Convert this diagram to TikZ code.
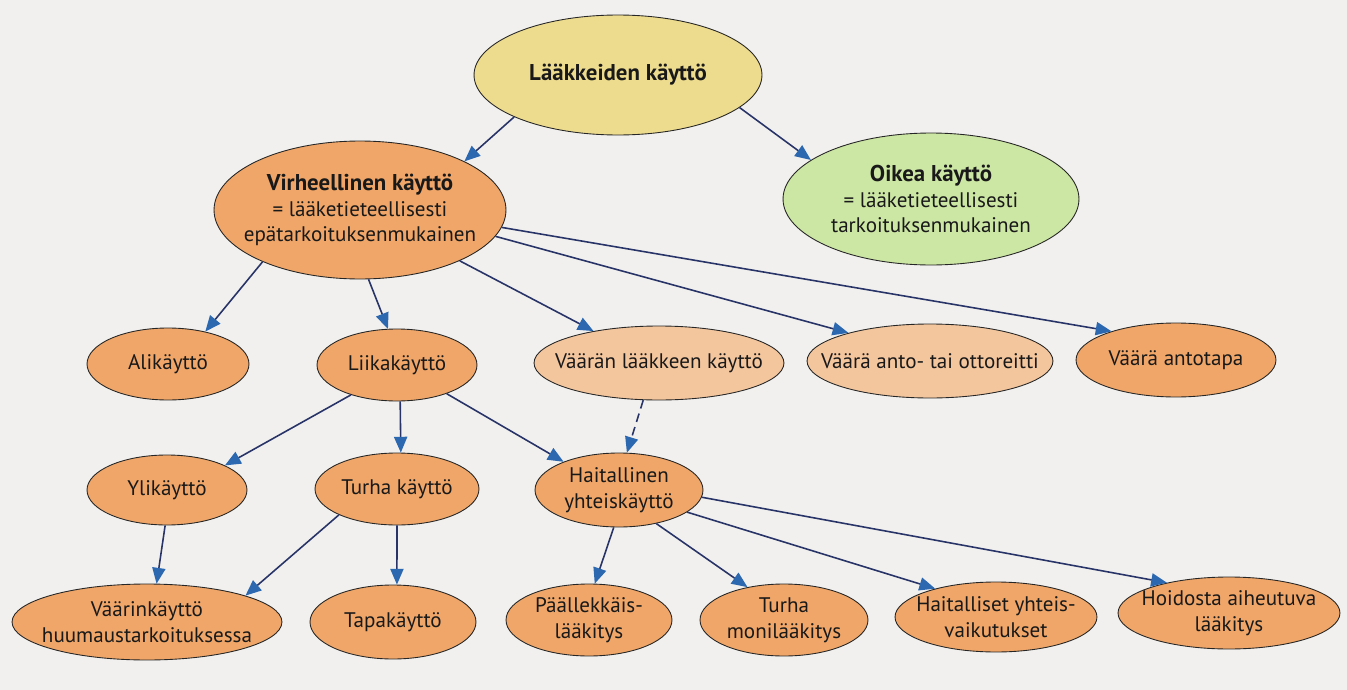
\documentclass[tikz,border=0pt]{standalone}
\usepackage{fontspec}
\setmainfont{PT Sans}
\usetikzlibrary{shapes.geometric, arrows.meta}

\definecolor{paper}{RGB}{241,240,238}
\definecolor{yel}{RGB}{238,220,142}
\definecolor{ora}{RGB}{239,166,104}
\definecolor{peach}{RGB}{244,198,158}
\definecolor{grn}{RGB}{204,230,164}
\definecolor{navy}{RGB}{40,52,104}
\definecolor{arrblue}{RGB}{44,104,176}

\newcommand{\ttl}[1]{{\fontsize{13}{15.6}\selectfont\bfseries #1}}

\tikzset{
  ov/.style 2 args={ellipse, draw=black!85, line width=0.5pt, minimum width=#1cm,
    minimum height=#2cm, inner sep=-1cm, align=center, text=black!90,
    font=\fontsize{12}{14.6}\selectfont},
  arr/.style={draw=navy, line width=0.9pt,
    -{Triangle[length=9pt, width=7.5pt, color=arrblue]}}
}

\begin{document}
\begin{tikzpicture}[x=0.02cm, y=-0.02cm]
    \fill[paper] (0,0) rectangle (1347,690);
    \useasboundingbox (0,0) rectangle (1347,690);

    % top
    \node[ov={5.76}{2.4}, fill=yel] (lk) at (618,75) {\ttl{Lääkkeiden käyttö}};
    \node[ov={5.84}{2.76}, fill=ora] (virh) at (360,210)
        {\ttl{Virheellinen käyttö}\\= lääketieteellisesti\\epätarkoituksenmukainen};
    \node[ov={5.92}{2.64}, fill=grn] (oikea) at (931,199)
        {\ttl{Oikea käyttö}\\= lääketieteellisesti\\tarkoituksenmukainen};

    % second row
    \node[ov={3.24}{1.44}, fill=ora] (ali) at (168,364) {Alikäyttö};
    \node[ov={3.2}{1.44}, fill=ora] (liika) at (397,365) {Liikakäyttö};
    \node[ov={5.0}{1.48}, fill=peach] (vlaak) at (659,363) {Väärän lääkkeen käyttö};
    \node[ov={4.92}{1.48}, fill=peach] (antor) at (930,361) {Väärä anto- tai ottoreitti};
    \node[ov={4.0}{1.48}, fill=ora] (antot) at (1176,360) {Väärä antotapa};

    % third row
    \node[ov={3.2}{1.4}, fill=ora] (yli) at (167,490) {Ylikäyttö};
    \node[ov={3.28}{1.44}, fill=ora] (turha) at (397,489) {Turha käyttö};
    \node[ov={3.36}{1.48}, fill=ora] (hait) at (619,490) {Haitallinen\\yhteiskäyttö};

    % bottom row
    \node[ov={5.4}{1.52}, fill=ora] (huume) at (147,622) {Väärinkäyttö\\huumaustarkoituksessa};
    \node[ov={3.32}{1.48}, fill=ora] (tapa) at (393,622) {Tapakäyttö};
    \node[ov={3.32}{1.44}, fill=ora] (paall) at (589,620) {Päällekkäis-\\lääkitys};
    \node[ov={3.36}{1.44}, fill=ora] (moni) at (784,620) {Turha\\monilääkitys};
    \node[ov={4.04}{1.4}, fill=ora] (yhteis) at (996,617) {Haitalliset yhteis-\\vaikutukset};
    \node[ov={4.44}{1.44}, fill=ora] (hoito) at (1229,613) {Hoidosta aiheutuva\\lääkitys};

    % arrows
    \draw[arr] (lk.202) -- (virh.25);
    \draw[arr] (lk.-15) -- (oikea.162);
    \draw[arr] (virh.208) -- (ali.41);
    \draw[arr] (virh.277) -- (liika.104);
    \draw[arr] (virh.-27) -- (vlaak.154);
    \draw[arr] (virh.-11) -- (antor.161);
    \draw[arr] (virh.-7) -- (antot.156);
    \draw[arr] (liika.213) -- (yli.23);
    \draw[arr] (liika.275) -- (turha.84);
    \draw[arr] (liika.-30) -- (hait.153);
    \draw[arr, dash pattern=on 5pt off 3pt] (vlaak.247) -- (hait.78);
    \draw[arr] (yli.267) -- (huume.76);
    \draw[arr] (turha.204) -- (huume.15);
    \draw[arr] (turha.270) -- (tapa.84);
    \draw[arr] (hait.262) -- (paall.81);
    \draw[arr] (hait.-42) -- (moni.138);
    \draw[arr] (hait.-18) -- (yhteis.155);
    \draw[arr] (hait.-5) -- (hoito.154);
\end{tikzpicture}
\end{document}
